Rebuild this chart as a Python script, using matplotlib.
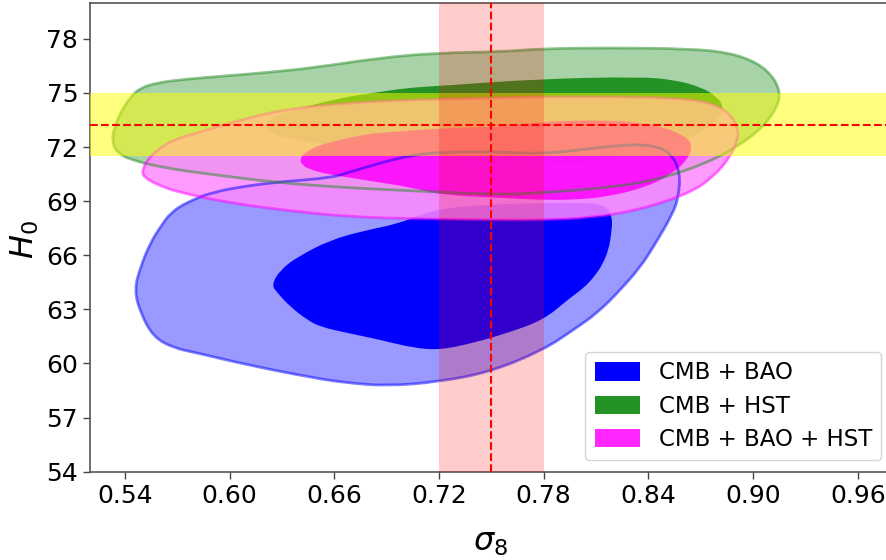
import numpy as np
import matplotlib
matplotlib.use("Agg")
import matplotlib.pyplot as plt
from matplotlib.path import Path
from matplotlib.patches import PathPatch, Patch

# ---------------- data (contour outlines) ----------------
labels = ["CMB + BAO", "CMB + HST", "CMB + BAO + HST"]

bao_outer_s8 = [0.5454, 0.5489, 0.5546, 0.5603, 0.5661, 0.5758, 0.5907, 0.6102, 0.6291, 0.6578,
                0.6675, 0.6864, 0.7053, 0.7248, 0.7552, 0.7781, 0.8010, 0.8257, 0.8411, 0.8526,
                0.8583, 0.8572, 0.8543, 0.8429, 0.8354, 0.8240, 0.8108, 0.7970, 0.7798, 0.7494,
                0.7197, 0.6904, 0.6675, 0.6480, 0.6102, 0.5815, 0.5678, 0.5563, 0.5489]
bao_outer_h0 = [64.08, 65.35, 66.69, 67.57, 68.35, 68.96, 69.51, 69.85, 70.07, 70.29,
                70.57, 71.12, 71.57, 71.73, 71.73, 71.62, 71.84, 72.12, 72.12, 71.73,
                70.57, 69.24, 68.35, 66.46, 65.35, 64.08, 62.80, 61.86, 60.75, 59.53,
                58.98, 58.75, 58.92, 59.20, 59.92, 60.58, 60.86, 61.47, 62.80]

bao_inner_s8 = [0.6240, 0.6291, 0.6389, 0.6578, 0.6767, 0.6962, 0.7093, 0.7208, 0.7437, 0.7781,
                0.8067, 0.8154, 0.8188, 0.8194, 0.8165, 0.8067, 0.7936, 0.7798, 0.7592, 0.7397,
                0.7208, 0.7053, 0.6864, 0.6675, 0.6520, 0.6446, 0.6348, 0.6274]
bao_inner_h0 = [64.36, 65.19, 65.91, 66.85, 67.35, 67.74, 68.24, 68.57, 68.79, 68.90,
                68.90, 68.74, 68.24, 67.57, 65.91, 64.47, 63.52, 62.41, 61.69, 61.14,
                60.75, 60.86, 61.31, 61.69, 62.03, 62.41, 63.14, 63.91]

hst_outer_s8 = [0.5328, 0.5334, 0.5374, 0.5432, 0.5489, 0.5586, 0.5718, 0.5907, 0.6194, 0.6480,
                0.6864, 0.7197, 0.7552, 0.7781, 0.8165, 0.8641, 0.8870, 0.9024, 0.9116, 0.9156,
                0.9139, 0.9059, 0.8927, 0.8738, 0.8452, 0.8165, 0.7781, 0.7552, 0.7053, 0.6675,
                0.6291, 0.5907, 0.5621, 0.5432, 0.5357]
hst_outer_h0 = [72.23, 72.95, 73.90, 74.78, 75.28, 75.56, 75.73, 75.89, 76.11, 76.39,
                76.95, 77.22, 77.28, 77.45, 77.50, 77.45, 77.22, 76.67, 75.89, 75.00,
                74.23, 73.12, 72.12, 71.12, 70.18, 69.74, 69.46, 69.35, 69.57, 69.74,
                70.01, 70.46, 70.85, 71.29, 71.68]

hst_inner_s8 = [0.6194, 0.6234, 0.6308, 0.6635, 0.6824, 0.7019, 0.7208, 0.7781, 0.8354, 0.8543,
                0.8698, 0.8795, 0.8830, 0.8813, 0.8727, 0.8641, 0.8452, 0.8165, 0.7781, 0.7552,
                0.7248, 0.6864, 0.6480, 0.6291]
hst_inner_h0 = [73.06, 73.51, 73.90, 74.73, 75.00, 75.28, 75.39, 75.78, 75.89, 75.73,
                75.34, 74.78, 74.23, 73.67, 72.95, 72.56, 71.84, 71.29, 70.90, 70.96,
                71.34, 71.73, 72.23, 72.56]

all_outer_s8 = [0.5500, 0.5529, 0.5586, 0.5678, 0.5815, 0.6004, 0.6291, 0.6675, 0.7053, 0.7552,
                0.7781, 0.8165, 0.8543, 0.8773, 0.8887, 0.8916, 0.8910, 0.8870, 0.8773, 0.8641,
                0.8354, 0.8067, 0.7781, 0.7552, 0.7053, 0.6675, 0.6291, 0.6004, 0.5718, 0.5586,
                0.5506]
all_outer_h0 = [70.73, 71.29, 71.84, 72.40, 72.79, 73.34, 74.06, 74.45, 74.62, 74.73,
                74.78, 74.78, 74.73, 74.45, 73.67, 72.79, 72.40, 71.46, 70.35, 69.46,
                68.52, 68.07, 67.96, 67.96, 68.02, 68.13, 68.52, 68.90, 69.46, 69.90,
                70.35]

all_inner_s8 = [0.6389, 0.6446, 0.6578, 0.6767, 0.6864, 0.7248, 0.7552, 0.7781, 0.8165, 0.8452,
                0.8623, 0.8652, 0.8623, 0.8543, 0.8394, 0.8165, 0.7970, 0.7781, 0.7552, 0.7208,
                0.7053, 0.6767, 0.6480]
all_inner_h0 = [71.18, 71.84, 72.29, 72.68, 72.79, 73.06, 73.12, 73.40, 73.51, 73.23,
                72.56, 72.01, 71.29, 70.57, 69.79, 69.24, 69.07, 69.07, 69.18, 69.35,
                69.74, 70.18, 70.62]

# priors / reference bands
h0_ref, h0_err = 73.24, 1.74
s8_ref, s8_err = 0.75, 0.03

xticks = [0.54, 0.60, 0.66, 0.72, 0.78, 0.84, 0.90, 0.96]
yticks = [54, 57, 60, 63, 66, 69, 72, 75, 78]

# ---------------- helpers ----------------
def smooth_path(xs, ys):
    p = np.column_stack([xs, ys])
    n = len(p)
    mids = (p + np.roll(p, -1, axis=0)) / 2.0
    verts = [mids[-1]]
    codes = [Path.MOVETO]
    for i in range(n):
        verts += [p[i], mids[i]]
        codes += [Path.CURVE3, Path.CURVE3]
    verts.append(mids[-1])
    codes.append(Path.CLOSEPOLY)
    return Path(np.array(verts), codes)

# ---------------- figure ----------------
fig = plt.figure(figsize=(8.86, 5.60), dpi=100)
ax = fig.add_axes([90/886, (560-471.7)/560, (892.7-90)/886, (471.7-2.7)/560])
ax.set_xlim(0.52, 0.98)
ax.set_ylim(54, 80)

blue_outer = (135/255, 135/255, 1.0)
green_outer = (153/255, 202/255, 153/255)
mag_outer = (1.0, 137/255, 1.0)
green_inner = '#259225'

# fills
ax.add_patch(PathPatch(smooth_path(bao_outer_s8, bao_outer_h0), fc=blue_outer, ec='none', alpha=0.85, zorder=1))
ax.add_patch(PathPatch(smooth_path(bao_inner_s8, bao_inner_h0), fc='blue', ec='none', alpha=1.0, zorder=1.1))
ax.add_patch(PathPatch(smooth_path(hst_outer_s8, hst_outer_h0), fc=green_outer, ec='none', alpha=0.85, zorder=1.2))
ax.add_patch(PathPatch(smooth_path(hst_inner_s8, hst_inner_h0), fc=green_inner, ec='none', alpha=1.0, zorder=1.3))
ax.add_patch(PathPatch(smooth_path(all_outer_s8, all_outer_h0), fc=mag_outer, ec='none', alpha=0.85, zorder=1.4))
ax.add_patch(PathPatch(smooth_path(all_inner_s8, all_inner_h0), fc='magenta', ec='none', alpha=0.85, zorder=1.5))

# outlines of the outer contours
ax.add_patch(PathPatch(smooth_path(bao_outer_s8, bao_outer_h0), fc='none', ec=(0, 0, 1, 0.5), lw=2, zorder=2))
ax.add_patch(PathPatch(smooth_path(hst_outer_s8, hst_outer_h0), fc='none', ec=(34/255, 139/255, 34/255, 0.5), lw=2, zorder=2))
ax.add_patch(PathPatch(smooth_path(all_outer_s8, all_outer_h0), fc='none', ec=(1, 0, 1, 0.5), lw=2, zorder=2))

# reference bands
ax.axhspan(h0_ref - h0_err, h0_ref + h0_err, color='yellow', alpha=0.5, lw=0, zorder=3)
ax.axvspan(s8_ref - s8_err, s8_ref + s8_err, color='red', alpha=0.2, lw=0, zorder=3)
ax.axhline(h0_ref, color='red', ls='--', lw=1.5, zorder=4)
ax.axvline(s8_ref, color='red', ls='--', lw=1.5, zorder=4)

ax.set_xticks(xticks)
ax.set_xticklabels([f"{v:.2f}" for v in xticks])
ax.set_yticks(yticks)
ax.set_yticklabels([str(v) for v in yticks])
ax.tick_params(labelsize=18, length=5, width=1, color='#444444')
for s in ax.spines.values():
    s.set_color('#555555')
    s.set_linewidth(1.2)

fig.text(25/886, 1 - 240/560, r'$H_0$', rotation=90, fontsize=23, ha='center', va='center')
fig.text(491/886, 1 - 543/560, r'$\sigma_8$', fontsize=23, ha='center', va='center')

handles = [Patch(facecolor='blue', edgecolor='none'),
           Patch(facecolor=green_inner, edgecolor='none'),
           Patch(facecolor=(1, 0, 1, 0.85), edgecolor='none')]
ax.legend(handles, labels, loc='lower right', fontsize=16.5, framealpha=0.8,
          handleheight=0.85, labelspacing=0.45)

fig.savefig('out.png', dpi=100)
